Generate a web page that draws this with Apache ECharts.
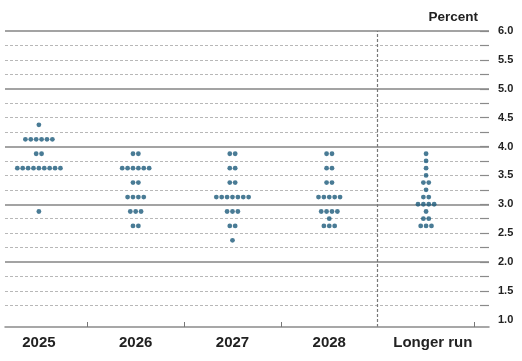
<!DOCTYPE html>
<html>
<head>
<meta charset="utf-8">
<script src="https://cdn.jsdelivr.net/npm/echarts@6/dist/echarts.min.js"></script>
<style>html,body{margin:0;padding:0;background:#fff;}#c{width:522px;height:361px;}</style>
</head>
<body>
<div id="c"></div>
<script>
// Categories (x) and dot counts per rate level: [rate, number of participants]
const categories = ['2025', '2026', '2027', '2028', 'Longer run'];
const dots2025 = [[4.375, 1], [4.125, 6], [3.875, 2], [3.625, 9], [2.875, 1]];
const dots2026 = [[3.875, 2], [3.625, 6], [3.375, 2], [3.125, 4], [2.875, 3], [2.625, 2]];
const dots2027 = [[3.875, 2], [3.625, 2], [3.375, 2], [3.125, 7], [2.875, 3], [2.625, 2], [2.375, 1]];
const dots2028 = [[3.875, 2], [3.625, 2], [3.375, 2], [3.125, 5], [2.875, 4], [2.75, 1], [2.625, 3]];
const dotsLR = [[3.875, 1], [3.75, 1], [3.625, 1], [3.5, 1], [3.375, 2], [3.25, 1], [3.125, 2], [3.0, 4], [2.875, 1], [2.75, 2], [2.625, 3]];
const yLabels = [1.0, 1.5, 2.0, 2.5, 3.0, 3.5, 4.0, 4.5, 5.0, 5.5, 6.0];
const solidGrid = [2, 3, 4, 5, 6];
const dashedGrid = [1.25, 1.5, 1.75, 2.25, 2.5, 2.75, 3.25, 3.5, 3.75, 4.25, 4.5, 4.75, 5.25, 5.5, 5.75];

const allDots = [dots2025, dots2026, dots2027, dots2028, dotsLR];
const DOT_GAP = 0.0557; // horizontal spacing between dots in category units
const points = [];
allDots.forEach((levels, ci) => {
  const center = ci + 0.5;
  levels.forEach(([rate, n]) => {
    for (let i = 0; i < n; i++) {
      points.push([center + (i - (n - 1) / 2) * DOT_GAP, rate]);
    }
  });
});

const tickVals = [...dashedGrid, ...solidGrid].sort((a, b) => a - b);

const chart = echarts.init(document.getElementById('c'), null, {renderer: 'canvas'});
chart.setOption({
  animation: false,
  textStyle: {fontFamily: 'Liberation Sans, Arial, sans-serif'},
  title: {
    text: 'Percent', right: 39, top: 5,
    textStyle: {fontSize: 13.5, fontWeight: 'bold', color: '#222', fontFamily: 'Liberation Sans, Arial, sans-serif'}
  },
  grid: {left: 5, right: 33, top: 31, bottom: 34},
  xAxis: {
    type: 'value', min: 0.15, max: 5.15,
    splitLine: {show: false},
    axisLine: {show: true, lineStyle: {color: '#8a8a8a', width: 1.5}},
    axisTick: {show: true, inside: true, length: 5, customValues: [1, 2, 3, 5], lineStyle: {color: '#777', width: 1}},
    axisLabel: {
      customValues: [0.5, 1.5, 2.5, 3.5, 4.57],
      formatter: v => categories[Math.floor(v)],
      fontSize: 15, fontWeight: 'bold', color: '#222', margin: 8
    }
  },
  yAxis: {
    type: 'value', min: 0.875, max: 6.0, position: 'right',
    splitLine: {show: false},
    axisLine: {show: false},
    axisTick: {show: true, inside: true, length: 9, customValues: tickVals, lineStyle: {color: '#8a8a8a', width: 1.2}},
    axisLabel: {
      customValues: yLabels,
      formatter: v => v.toFixed(1),
      fontSize: 11, fontWeight: 'bold', color: '#222', margin: 9
    }
  },
  series: [
    {
      type: 'line', data: [], z: 0, silent: true,
      markLine: {
        silent: true, symbol: 'none', animation: false, z: 0,
        label: {show: false},
        data: [
          ...solidGrid.map(v => ({yAxis: v, lineStyle: {color: '#858585', width: 1.5, type: 'solid'}})),
          ...dashedGrid.map(v => ({yAxis: v, lineStyle: {color: '#b8b8b8', width: 1, type: [3, 2]}})),
          {xAxis: 4, lineStyle: {color: '#777', width: 1.2, type: [3, 2]}}
        ]
      }
    },
    {
      type: 'scatter', z: 10,
      symbol: 'circle', symbolSize: 4.8,
      itemStyle: {color: '#1b5a7a'},
      data: points
    }
  ]
});
</script>
</body>
</html>
